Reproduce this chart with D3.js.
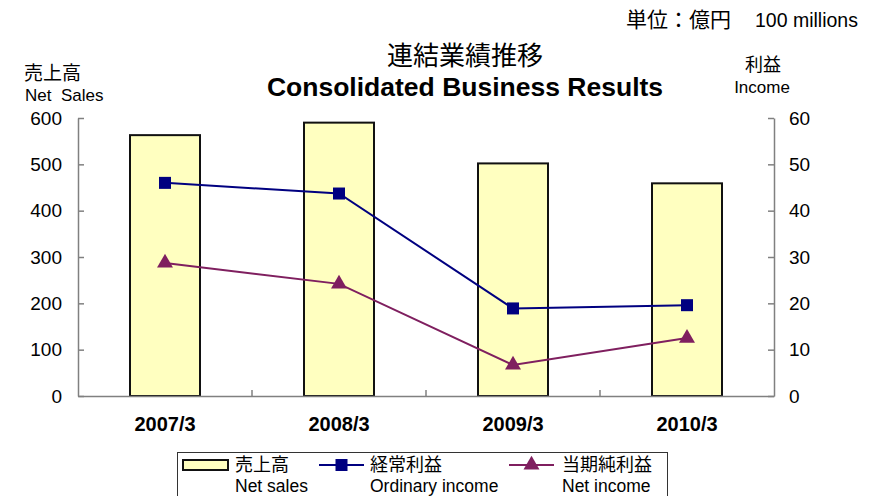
<!DOCTYPE html>
<meta charset="utf-8">
<html>
<head>
<style>
  body { margin: 0; background: #fff; }
  text { font-family: "Liberation Sans", "Noto Sans CJK JP", sans-serif; }
  .jp { font-family: "Noto Sans CJK JP", sans-serif; }
</style>
</head>
<body>
<div id="chart"></div>
<script src="https://cdn.jsdelivr.net/npm/d3@7"></script>
<script>
    // data
    let years = ['2007/3', '2008/3', '2009/3', '2010/3'];
    let netSales = [563, 590, 502, 459];          // left axis, bars
    let ordinaryIncome = [46.0, 43.7, 18.9, 19.6]; // right axis
    let netIncome = [28.7, 24.2, 6.7, 12.5];       // right axis
    let leftTicks = [0, 100, 200, 300, 400, 500, 600];
    let rightTicks = [0, 10, 20, 30, 40, 50, 60];

    let width = 875, height = 496;
    let plot = {left: 78, right: 774, top: 118, bottom: 396};

    let svg = d3.select('#chart').append('svg')
        .attr('width', width).attr('height', height);

    let x = d3.scaleBand().domain(years).range([plot.left, plot.right]).paddingInner(0).paddingOuter(0);
    let yL = d3.scaleLinear().domain([0, 600]).range([plot.bottom, plot.top]);
    let yR = d3.scaleLinear().domain([0, 60]).range([plot.bottom, plot.top]);

    let barW = 70;
    let navy = '#000080', plum = '#7f1f5f', barFill = '#ffffc0';

    // bars
    svg.selectAll('rect.bar').data(netSales).enter().append('rect')
        .attr('class', 'bar')
        .attr('x', (d, i) => x(years[i]) + x.bandwidth() / 2 - barW / 2)
        .attr('y', d => yL(d))
        .attr('width', barW)
        .attr('height', d => yL(0) - yL(d))
        .attr('fill', barFill).attr('stroke', '#111').attr('stroke-width', 2);

    // axes
    let axisL = svg.append('g').attr('transform', `translate(${plot.left},0)`)
        .call(d3.axisLeft(yL).tickValues(leftTicks).tickSizeInner(-6).tickSizeOuter(0).tickPadding(16));
    let axisR = svg.append('g').attr('transform', `translate(${plot.right},0)`)
        .call(d3.axisRight(yR).tickValues(rightTicks).tickSizeInner(-6).tickSizeOuter(0).tickPadding(15));
    let axisB = svg.append('g').attr('transform', `translate(0,${plot.bottom})`)
        .call(d3.axisBottom(x).tickSize(0).tickPadding(21));
    [axisL, axisR, axisB].forEach(a => {
        a.select('.domain').attr('stroke', '#808080').attr('stroke-width', 1.5);
        a.selectAll('.tick line').attr('stroke', '#808080').attr('stroke-width', 1.5);
        a.selectAll('text').attr('font-size', 19).attr('fill', '#000')
            .style('font-family', '"Liberation Sans", sans-serif');
    });
    axisB.selectAll('text').attr('font-size', 20).attr('font-weight', 'bold');

    // category separator ticks
    svg.append('g').selectAll('line').data(years.slice(1)).enter().append('line')
        .attr('x1', d => x(d)).attr('x2', d => x(d))
        .attr('y1', plot.bottom).attr('y2', plot.bottom - 6)
        .attr('stroke', '#808080').attr('stroke-width', 1.5);

    // lines
    let cx = i => x(years[i]) + x.bandwidth() / 2;
    let line = d3.line().x((d, i) => cx(i)).y(d => yR(d));

    svg.append('path').datum(ordinaryIncome).attr('d', line)
        .attr('fill', 'none').attr('stroke', navy).attr('stroke-width', 2);
    svg.append('path').datum(netIncome).attr('d', line)
        .attr('fill', 'none').attr('stroke', plum).attr('stroke-width', 2);

    svg.selectAll('rect.sq').data(ordinaryIncome).enter().append('rect')
        .attr('class', 'sq')
        .attr('x', (d, i) => cx(i) - 6).attr('y', d => yR(d) - 6)
        .attr('width', 12).attr('height', 12).attr('fill', navy);

    let tri = d3.symbol().type(d3.symbolTriangle).size(110);
    svg.selectAll('path.tri').data(netIncome).enter().append('path')
        .attr('class', 'tri')
        .attr('transform', (d, i) => `translate(${cx(i)},${yR(d)})`)
        .attr('d', tri).attr('fill', plum);

    // titles
    svg.append('text').attr('class', 'jp').attr('x', 465).attr('y', 65)
        .attr('text-anchor', 'middle').attr('font-size', 26).text('連結業績推移');
    svg.append('text').attr('x', 465).attr('y', 96)
        .attr('text-anchor', 'middle').attr('font-size', 26.5).attr('font-weight', 'bold')
        .text('Consolidated Business Results');

    svg.append('text').attr('class', 'jp').attr('x', 731).attr('y', 27)
        .attr('text-anchor', 'end').attr('font-size', 21).text('単位：億円');
    svg.append('text').attr('x', 755).attr('y', 27)
        .attr('font-size', 19.5).text('100 millions');

    svg.append('text').attr('class', 'jp').attr('x', 24).attr('y', 80)
        .attr('font-size', 19).text('売上高');
    svg.append('text').attr('x', 25).attr('y', 101)
        .attr('font-size', 17).text('Net\u00a0\u00a0Sales');

    svg.append('text').attr('class', 'jp').attr('x', 763).attr('y', 71)
        .attr('text-anchor', 'middle').attr('font-size', 18).text('利益');
    svg.append('text').attr('x', 762).attr('y', 93)
        .attr('text-anchor', 'middle').attr('font-size', 17).text('Income');

    // legend
    let legend = svg.append('g');
    legend.append('rect').attr('x', 177.5).attr('y', 452.5).attr('width', 490).attr('height', 60)
        .attr('fill', '#fff').attr('stroke', '#333').attr('stroke-width', 1);

    let legendItems = [
        {jp: '売上高', en: 'Net sales', type: 'bar', x0: 183, tx: 235},
        {jp: '経常利益', en: 'Ordinary income', type: 'sq', x0: 319, tx: 370},
        {jp: '当期純利益', en: 'Net income', type: 'tri', x0: 509, tx: 562}
    ];
    legendItems.forEach(it => {
        if (it.type === 'bar') {
            legend.append('rect').attr('x', it.x0).attr('y', 460).attr('width', 45).attr('height', 10)
                .attr('fill', barFill).attr('stroke', '#111').attr('stroke-width', 2);
        } else {
            let c = it.type === 'sq' ? navy : plum;
            legend.append('line').attr('x1', it.x0).attr('x2', it.x0 + 45)
                .attr('y1', 465).attr('y2', 465).attr('stroke', c).attr('stroke-width', 2);
            if (it.type === 'sq') {
                legend.append('rect').attr('x', it.x0 + 22.5 - 6).attr('y', 459)
                    .attr('width', 12).attr('height', 12).attr('fill', c);
            } else {
                legend.append('path').attr('transform', `translate(${it.x0 + 22.5},465)`)
                    .attr('d', tri).attr('fill', c);
            }
        }
        legend.append('text').attr('class', 'jp').attr('x', it.tx).attr('y', 471)
            .attr('font-size', 18).text(it.jp);
        legend.append('text').attr('x', it.tx).attr('y', 492)
            .attr('font-size', 17.5).text(it.en);
    });
</script>
</body>
</html>
